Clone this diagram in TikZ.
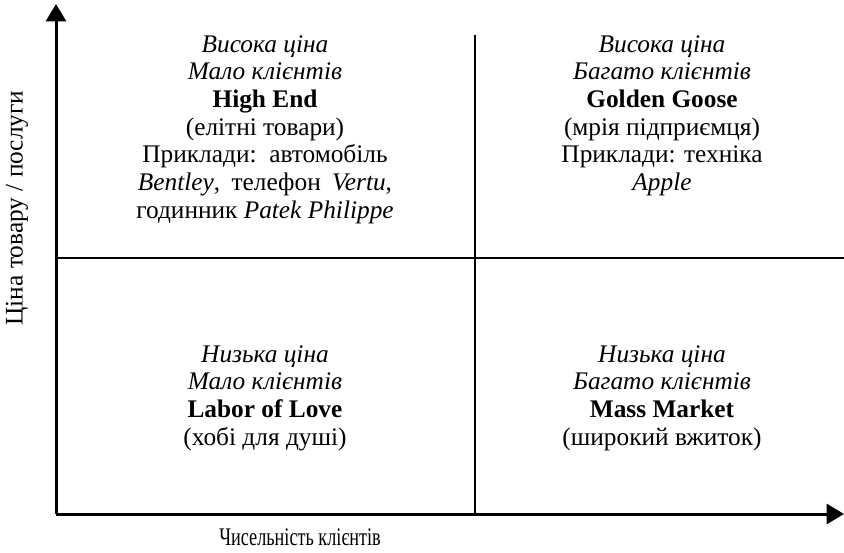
\documentclass[tikz,border=0pt]{standalone}
\usepackage{fontspec}
\usepackage{graphicx}
\setmainfont{Liberation Serif}
\usetikzlibrary{arrows.meta}
\tikzset{
  axis/.style = {line width = 2.25pt, -{Triangle[width = 15pt, length = 13pt]}},
  divider/.style = {line width = 1.5pt},
  quad/.style = {align = center, anchor = north, inner sep = 0pt,
                 font = \fontsize{19}{20.8}\selectfont},
  axislabel/.style = {inner sep = 1pt, font = \fontsize{19}{20.8}\selectfont}
}
\begin{document}
\begin{tikzpicture}[x = 0.75pt, y = -0.75pt]
          \useasboundingbox (0,0) rectangle (844,553);
          \coordinate (o)    at ( 56, 514);
          \coordinate (ytop) at ( 56,   4);
          \coordinate (xend) at (844, 514);
          \coordinate (vtop) at (475,  35);
          \coordinate (vbot) at (475, 514);
          \coordinate (hl)   at ( 56, 258);
          \coordinate (hr)   at (844, 258);

          % quadrant dividers
          \draw[divider] (vtop) -- (vbot);
          \draw[divider] (hl) -- (hr);

          % axes
          \draw[axis] (o) -- (ytop);
          \draw[axis] (o) -- (xend);

          \node[axislabel] at (300, 537) (xlab) {\scalebox{0.72}[1]{Чисельність клієнтів}};
          \node[axislabel, rotate = 90] at (17, 208) (ylab) {Ціна товару / послуги};

          % quadrants
          \node[quad] at (265, 35) (hi) {\textit{Висока ціна}\\ \textit{Мало клієнтів}\\
            \textbf{High End}\\ (елітні товари)\\ Приклади:\hspace{0.5em}автомобіль\\
            \textit{Bentley},\hspace{0.45em}телефон\hspace{0.45em}\textit{Vertu},\\
            годинник \textit{Patek Philippe}};
          \node[quad] at (662, 35) (gg) {\textit{Висока ціна}\\ \textit{Багато клієнтів}\\
            \textbf{Golden Goose}\\ (мрія підприємця)\\ Приклади: техніка\\ \textit{Apple}};
          \node[quad] at (265, 345) (lol) {\textit{Низька ціна}\\ \textit{Мало клієнтів}\\
            \textbf{Labor of Love}\\ (хобі для душі)};
          \node[quad] at (662, 345) (mm) {\textit{Низька ціна}\\ \textit{Багато клієнтів}\\
            \textbf{Mass Market}\\ (широкий вжиток)};
        \end{tikzpicture}
\end{document}
